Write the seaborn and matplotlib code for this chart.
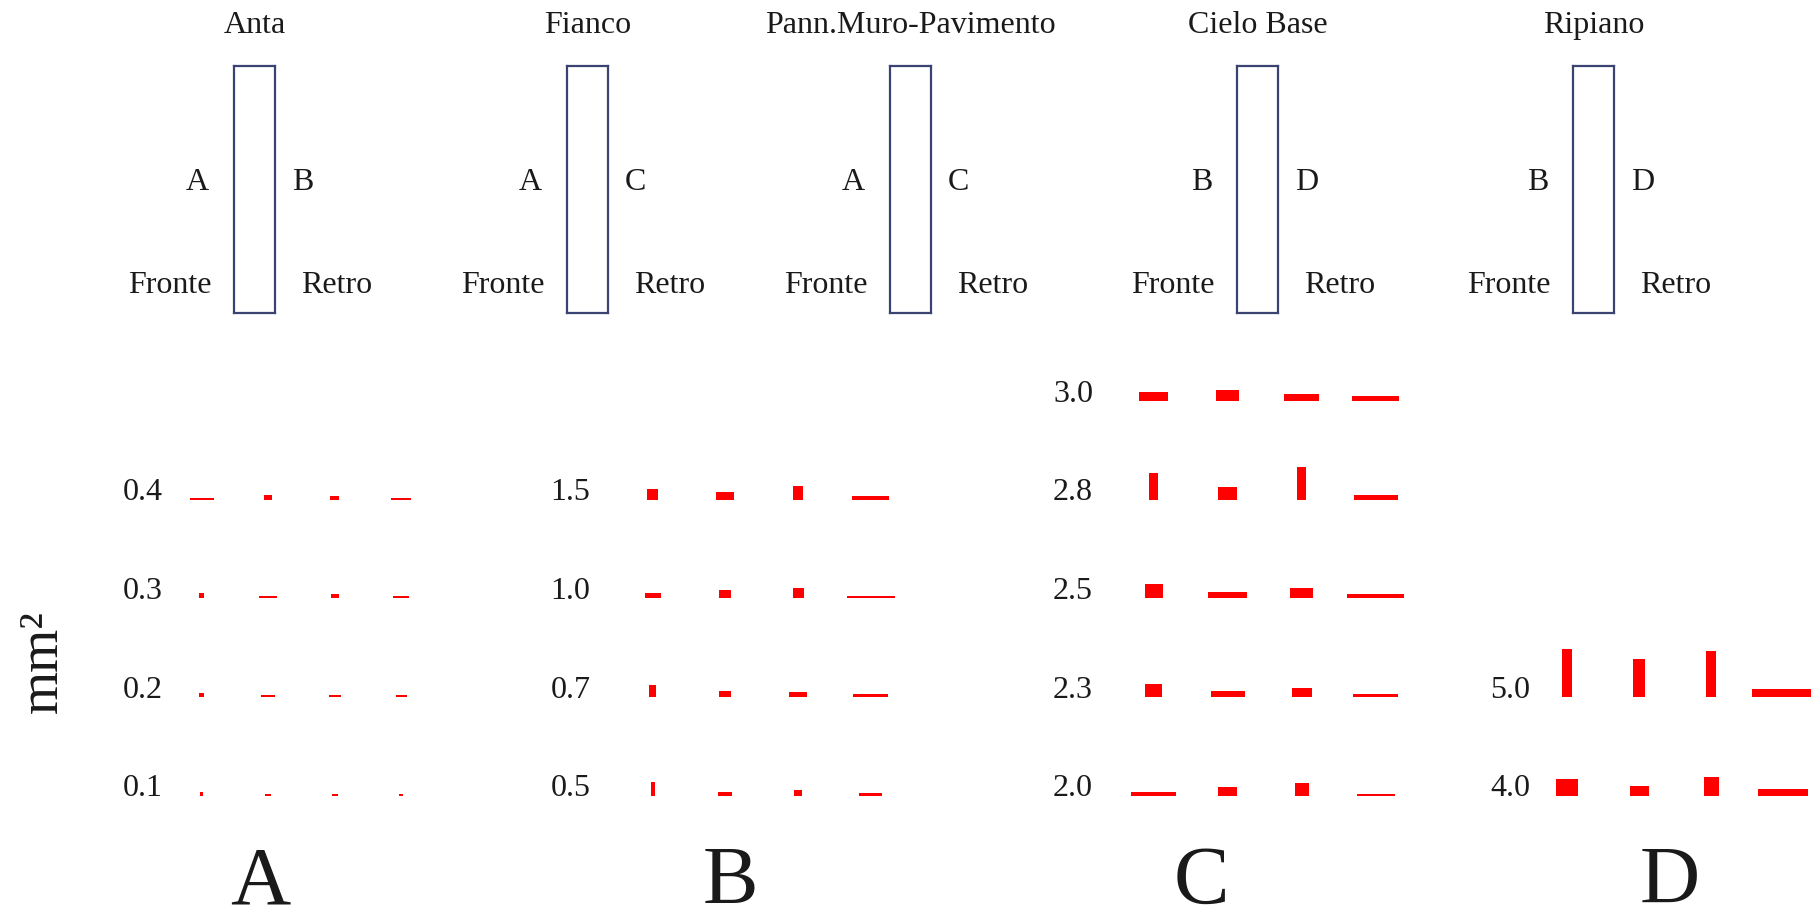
import matplotlib
matplotlib.use("Agg")
import matplotlib.pyplot as plt
import seaborn as sns

# ---------------- data ----------------
panel_titles = ["Anta", "Fianco", "Pann.Muro-Pavimento", "Cielo Base", "Ripiano"]
panel_left_side = ["A", "A", "A", "B", "B"]
panel_right_side = ["B", "C", "C", "D", "D"]
front_label = "Fronte"
back_label = "Retro"

group_names = ["A", "B", "C", "D"]
y_unit_label = "mm²"

# rows listed bottom -> top; each row has 4 marks (width, height of the mark)
A_rows = ["0.1", "0.2", "0.3", "0.4"]
A_w = [[3, 6, 6, 4], [5, 14, 12, 11], [5, 18, 8, 16], [24, 8, 9, 20]]
A_h = [[4, 2, 2, 2], [4, 2, 2, 2], [5, 2, 4, 2], [2, 5, 4, 2]]

B_rows = ["0.5", "0.7", "1.0", "1.5"]
B_w = [[4, 14, 8, 23], [7, 12, 18, 35], [16, 12, 11, 48], [11, 18, 10, 37]]
B_h = [[14, 4, 6, 3], [12, 6, 5, 3], [5, 8, 10, 2], [11, 8, 14, 4]]

C_rows = ["2.0", "2.3", "2.5", "2.8", "3.0"]
C_w = [[45, 19, 14, 38], [17, 34, 20, 45], [18, 39, 23, 57], [9, 19, 9, 44], [29, 23, 35, 47]]
C_h = [[4, 9, 13, 2], [13, 6, 9, 3], [14, 6, 10, 4], [27, 13, 33, 5], [9, 11, 7, 5]]

D_rows = ["4.0", "5.0"]
D_w = [[22, 19, 15, 50], [10, 12, 10, 62]]
D_h = [[17, 10, 19, 7], [48, 38, 46, 8]]

groups = [
    (A_rows, A_w, A_h),
    (B_rows, B_w, B_h),
    (C_rows, C_w, C_h),
    (D_rows, D_w, D_h),
]

# ---------------- style / layout ----------------
FW, FH, DPI = 1811, 923, 100
RED = "#ff0000"
FRAME = "#3b4373"
TXT = "#1a1a1a"
FS = 23

sns.set_theme(style="white")
plt.rcParams["font.family"] = ["Liberation Serif", "DejaVu Serif"]

fig = plt.figure(figsize=(FW / DPI, FH / DPI), dpi=DPI)
fig.patch.set_facecolor("white")

# top diagrams
panel_left_px = [234, 567, 890, 1237, 1573]
PANEL_W, PANEL_TOP, PANEL_BOT = 41, 66, 313
for k, title in enumerate(panel_titles):
    ax = fig.add_axes([panel_left_px[k] / FW, (FH - PANEL_BOT) / FH,
                       PANEL_W / FW, (PANEL_BOT - PANEL_TOP) / FH])
    ax.set_facecolor("none")
    ax.set_xticks([])
    ax.set_yticks([])
    for s in ax.spines.values():
        s.set_visible(True)
        s.set_color(FRAME)
        s.set_linewidth(1.6)
    ax.set_title(title, fontsize=FS, color=TXT, pad=24)
    ax.annotate(panel_left_side[k], xy=(0, 0.53), xycoords="axes fraction",
                xytext=(-18, 0), textcoords="offset points",
                ha="right", va="center", fontsize=FS, color=TXT)
    ax.annotate(panel_right_side[k], xy=(1, 0.53), xycoords="axes fraction",
                xytext=(12, 0), textcoords="offset points",
                ha="left", va="center", fontsize=FS, color=TXT)
    ax.annotate(front_label, xy=(0, 0.11), xycoords="axes fraction",
                xytext=(-16, 0), textcoords="offset points",
                ha="right", va="center", fontsize=FS, color=TXT)
    ax.annotate(back_label, xy=(1, 0.11), xycoords="axes fraction",
                xytext=(19, 0), textcoords="offset points",
                ha="left", va="center", fontsize=FS, color=TXT)

# bottom groups
ROW0_Y = 127.2      # px from bottom of row 0 baseline
ROW_STEP = 98.7     # px per row
group_left_px = [168.25, 616.35, 1116.95, 1531]
group_step_px = [66.5, 72.7, 73.9, 72.0]
tick_pad_px = [6, 26, 24, 1]

for g, (rows, ws, hs) in enumerate(groups):
    step = group_step_px[g]
    ax = fig.add_axes([group_left_px[g] / FW, (ROW0_Y - ROW_STEP) / FH,
                       4 * step / FW, 6 * ROW_STEP / FH])
    ax.set_facecolor("none")
    for i, _ in enumerate(rows):
        for j in range(4):
            ax.bar(j, hs[i][j] / ROW_STEP, width=ws[i][j] / step, bottom=i,
                   color=RED, linewidth=0, align="center")
    ax.set_xlim(-0.5, 3.5)
    ax.set_ylim(-1, 5)
    ax.set_xticks([])
    ax.set_yticks([i + 0.07 for i in range(len(rows))])
    ax.set_yticklabels(rows, fontsize=FS, color=TXT, va="center")
    ax.tick_params(axis="y", length=0, pad=tick_pad_px[g] * 0.72)
    sns.despine(ax=ax, left=True, bottom=True)

# group letters below
letter_x_px = [260, 730, 1201, 1670]
for g, name in enumerate(group_names):
    fig.text(letter_x_px[g] / FW, 2 / FH, name, fontsize=60, color=TXT,
             ha="center", va="bottom")

fig.text(43 / FW, 1 - 662 / FH, y_unit_label, rotation=90, fontsize=40,
         color=TXT, ha="center", va="center")

fig.savefig("out.png", dpi=DPI, facecolor="white")
